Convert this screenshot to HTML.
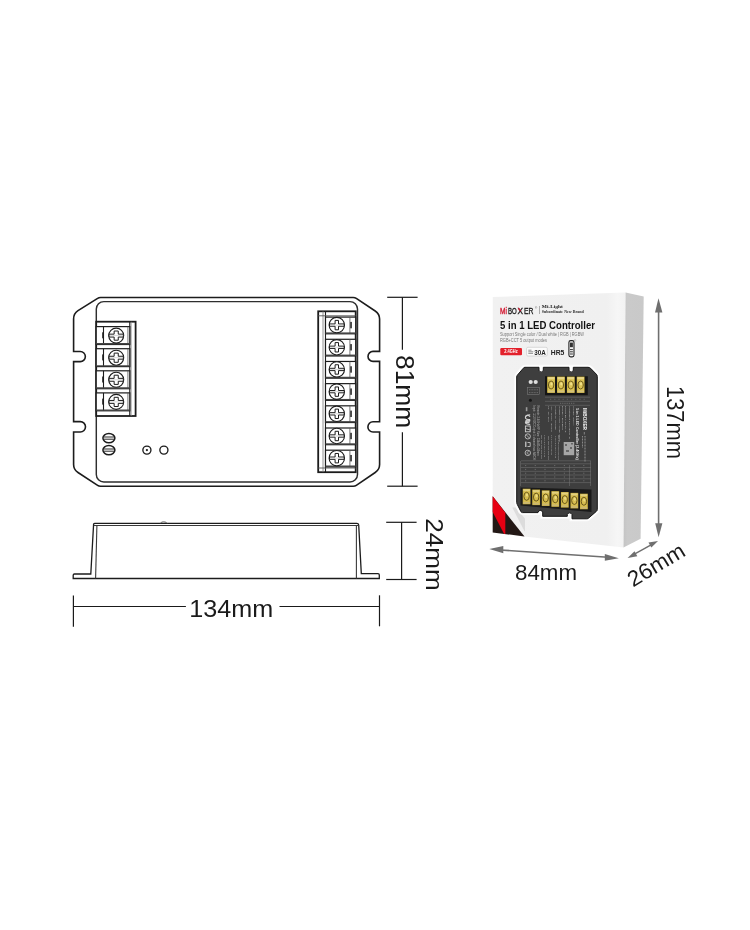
<!DOCTYPE html>
<html><head><meta charset="utf-8"><title>5 in 1 LED Controller dimensions</title>
<style>
html,body{margin:0;padding:0;background:#fff;}
body{width:750px;height:930px;overflow:hidden;font-family:"Liberation Sans",sans-serif;}
svg{display:block;will-change:transform;}
</style></head><body>
<svg width="750" height="930" viewBox="0 0 750 930">
<rect width="750" height="930" fill="#fff"/>
<path d="M 73.6 319 C 73.6 315 75 312.5 78 310.6 L 97.6 298.4 Q 98.8 297.5 100.6 297.5 H 353.2 Q 355 297.5 356.3 298.4 L 375.2 311 C 378.2 313 379.6 315.5 379.6 319 V 351.4 H 373 A 5 5 0 0 0 373 361.4 H 379.6 V 421.8 H 373 A 5.1 5.1 0 0 0 373 432 H 379.6 V 464.5 C 379.6 468 378.2 470.5 375.2 472.5 L 356.3 485.3 Q 355 486.2 353.2 486.2 H 100.6 Q 98.8 486.2 97.6 485.3 L 78 472.5 C 75 470.6 73.6 468 73.6 464.5 V 432 H 80.3 A 5.1 5.1 0 0 0 80.3 421.6 H 73.6 V 361.6 H 80.3 A 5.05 5.05 0 0 0 80.3 351.5 H 73.6 Z" fill="#fff" stroke="#1c1c1c" stroke-width="1.6"/>
<rect x="96.3" y="301.6" width="261.2" height="180.4" rx="7.5" fill="none" stroke="#2e2e2e" stroke-width="1.45"/>
<rect x="96.2" y="321.7" width="39.4" height="94.3" fill="#fff" stroke="#1c1c1c" stroke-width="1.8"/>
<line x1="129.8" y1="321.7" x2="129.8" y2="416" stroke="#1c1c1c" stroke-width="1.2"/>
<line x1="131.2" y1="321.7" x2="131.2" y2="416" stroke="#888" stroke-width="0.7"/>
<rect x="96.2" y="326.6" width="33.6" height="17.9" fill="#fff" stroke="#1c1c1c" stroke-width="1.2"/>
<line x1="103.5" y1="326.6" x2="103.5" y2="344.5" stroke="#1c1c1c" stroke-width="1.1"/>
<line x1="127.9" y1="326.6" x2="127.9" y2="344.5" stroke="#555" stroke-width="0.8"/>
<line x1="96.2" y1="343.8" x2="129.8" y2="343.8" stroke="#444" stroke-width="1.4"/>
<rect x="102.2" y="332.3" width="1.5" height="6" fill="#1c1c1c"/>
<circle cx="116.2" cy="335.6" r="7.5" fill="#fff" stroke="#1c1c1c" stroke-width="1.1"/><path d="M 114.15 331.0 H 118.25 V 334.15000000000003 H 123.3 V 337.05 H 118.25 V 340.20000000000005 H 114.15 V 337.05 H 109.10000000000001 V 334.15000000000003 H 114.15 Z" fill="#fff" stroke="#1c1c1c" stroke-width="1"/><line x1="109.60000000000001" y1="335.6" x2="122.8" y2="335.6" stroke="#bbb" stroke-width="0.6"/>
<rect x="96.2" y="348.70000000000005" width="33.6" height="17.9" fill="#fff" stroke="#1c1c1c" stroke-width="1.2"/>
<line x1="103.5" y1="348.70000000000005" x2="103.5" y2="366.6" stroke="#1c1c1c" stroke-width="1.1"/>
<line x1="127.9" y1="348.70000000000005" x2="127.9" y2="366.6" stroke="#555" stroke-width="0.8"/>
<line x1="96.2" y1="365.90000000000003" x2="129.8" y2="365.90000000000003" stroke="#444" stroke-width="1.4"/>
<rect x="102.2" y="354.40000000000003" width="1.5" height="6" fill="#1c1c1c"/>
<circle cx="116.2" cy="357.70000000000005" r="7.5" fill="#fff" stroke="#1c1c1c" stroke-width="1.1"/><path d="M 114.15 353.1 H 118.25 V 356.25000000000006 H 123.3 V 359.15000000000003 H 118.25 V 362.30000000000007 H 114.15 V 359.15000000000003 H 109.10000000000001 V 356.25000000000006 H 114.15 Z" fill="#fff" stroke="#1c1c1c" stroke-width="1"/><line x1="109.60000000000001" y1="357.70000000000005" x2="122.8" y2="357.70000000000005" stroke="#bbb" stroke-width="0.6"/>
<rect x="96.2" y="370.8" width="33.6" height="17.9" fill="#fff" stroke="#1c1c1c" stroke-width="1.2"/>
<line x1="103.5" y1="370.8" x2="103.5" y2="388.7" stroke="#1c1c1c" stroke-width="1.1"/>
<line x1="127.9" y1="370.8" x2="127.9" y2="388.7" stroke="#555" stroke-width="0.8"/>
<line x1="96.2" y1="388.0" x2="129.8" y2="388.0" stroke="#444" stroke-width="1.4"/>
<rect x="102.2" y="376.5" width="1.5" height="6" fill="#1c1c1c"/>
<circle cx="116.2" cy="379.8" r="7.5" fill="#fff" stroke="#1c1c1c" stroke-width="1.1"/><path d="M 114.15 375.2 H 118.25 V 378.35 H 123.3 V 381.25 H 118.25 V 384.40000000000003 H 114.15 V 381.25 H 109.10000000000001 V 378.35 H 114.15 Z" fill="#fff" stroke="#1c1c1c" stroke-width="1"/><line x1="109.60000000000001" y1="379.8" x2="122.8" y2="379.8" stroke="#bbb" stroke-width="0.6"/>
<rect x="96.2" y="392.90000000000003" width="33.6" height="17.9" fill="#fff" stroke="#1c1c1c" stroke-width="1.2"/>
<line x1="103.5" y1="392.90000000000003" x2="103.5" y2="410.8" stroke="#1c1c1c" stroke-width="1.1"/>
<line x1="127.9" y1="392.90000000000003" x2="127.9" y2="410.8" stroke="#555" stroke-width="0.8"/>
<line x1="96.2" y1="410.1" x2="129.8" y2="410.1" stroke="#444" stroke-width="1.4"/>
<rect x="102.2" y="398.6" width="1.5" height="6" fill="#1c1c1c"/>
<circle cx="116.2" cy="401.90000000000003" r="7.5" fill="#fff" stroke="#1c1c1c" stroke-width="1.1"/><path d="M 114.15 397.3 H 118.25 V 400.45000000000005 H 123.3 V 403.35 H 118.25 V 406.50000000000006 H 114.15 V 403.35 H 109.10000000000001 V 400.45000000000005 H 114.15 Z" fill="#fff" stroke="#1c1c1c" stroke-width="1"/><line x1="109.60000000000001" y1="401.90000000000003" x2="122.8" y2="401.90000000000003" stroke="#bbb" stroke-width="0.6"/>
<rect x="318.2" y="311.3" width="37.5" height="160.9" fill="#fff" stroke="#1c1c1c" stroke-width="1.8"/>
<line x1="323" y1="311.3" x2="323" y2="472.2" stroke="#777" stroke-width="0.8"/>
<line x1="325.5" y1="311.3" x2="325.5" y2="472.2" stroke="#1c1c1c" stroke-width="1.1"/>
<line x1="318.2" y1="315.8" x2="355.7" y2="315.8" stroke="#555" stroke-width="0.9"/>
<line x1="318.2" y1="468" x2="355.7" y2="468" stroke="#555" stroke-width="0.9"/>
<rect x="325.5" y="317.1" width="30.2" height="16.7" fill="#fff" stroke="#1c1c1c" stroke-width="1.2"/>
<line x1="349.9" y1="317.1" x2="349.9" y2="333.8" stroke="#555" stroke-width="0.8"/>
<line x1="325.5" y1="333.1" x2="355.7" y2="333.1" stroke="#444" stroke-width="1.4"/>
<rect x="350.3" y="321.90000000000003" width="1.5" height="6.4" fill="#1c1c1c"/>
<circle cx="336.8" cy="325.1" r="7.7" fill="#fff" stroke="#1c1c1c" stroke-width="1.1"/><path d="M 335.1 320.40000000000003 H 338.5 V 323.95000000000005 H 344.1 V 326.25 H 338.5 V 329.8 H 335.1 V 326.25 H 329.5 V 323.95000000000005 H 335.1 Z" fill="#fff" stroke="#1c1c1c" stroke-width="1"/><line x1="330.0" y1="325.1" x2="343.6" y2="325.1" stroke="#bbb" stroke-width="0.6"/>
<rect x="325.5" y="339.28000000000003" width="30.2" height="16.7" fill="#fff" stroke="#1c1c1c" stroke-width="1.2"/>
<line x1="349.9" y1="339.28000000000003" x2="349.9" y2="355.98" stroke="#555" stroke-width="0.8"/>
<line x1="325.5" y1="355.28000000000003" x2="355.7" y2="355.28000000000003" stroke="#444" stroke-width="1.4"/>
<rect x="350.3" y="344.08000000000004" width="1.5" height="6.4" fill="#1c1c1c"/>
<circle cx="336.8" cy="347.28000000000003" r="7.7" fill="#fff" stroke="#1c1c1c" stroke-width="1.1"/><path d="M 335.1 342.58000000000004 H 338.5 V 346.13000000000005 H 344.1 V 348.43 H 338.5 V 351.98 H 335.1 V 348.43 H 329.5 V 346.13000000000005 H 335.1 Z" fill="#fff" stroke="#1c1c1c" stroke-width="1"/><line x1="330.0" y1="347.28000000000003" x2="343.6" y2="347.28000000000003" stroke="#bbb" stroke-width="0.6"/>
<rect x="325.5" y="361.46000000000004" width="30.2" height="16.7" fill="#fff" stroke="#1c1c1c" stroke-width="1.2"/>
<line x1="349.9" y1="361.46000000000004" x2="349.9" y2="378.16" stroke="#555" stroke-width="0.8"/>
<line x1="325.5" y1="377.46000000000004" x2="355.7" y2="377.46000000000004" stroke="#444" stroke-width="1.4"/>
<rect x="350.3" y="366.26000000000005" width="1.5" height="6.4" fill="#1c1c1c"/>
<circle cx="336.8" cy="369.46000000000004" r="7.7" fill="#fff" stroke="#1c1c1c" stroke-width="1.1"/><path d="M 335.1 364.76000000000005 H 338.5 V 368.31000000000006 H 344.1 V 370.61 H 338.5 V 374.16 H 335.1 V 370.61 H 329.5 V 368.31000000000006 H 335.1 Z" fill="#fff" stroke="#1c1c1c" stroke-width="1"/><line x1="330.0" y1="369.46000000000004" x2="343.6" y2="369.46000000000004" stroke="#bbb" stroke-width="0.6"/>
<rect x="325.5" y="383.64" width="30.2" height="16.7" fill="#fff" stroke="#1c1c1c" stroke-width="1.2"/>
<line x1="349.9" y1="383.64" x2="349.9" y2="400.34" stroke="#555" stroke-width="0.8"/>
<line x1="325.5" y1="399.64" x2="355.7" y2="399.64" stroke="#444" stroke-width="1.4"/>
<rect x="350.3" y="388.44" width="1.5" height="6.4" fill="#1c1c1c"/>
<circle cx="336.8" cy="391.64" r="7.7" fill="#fff" stroke="#1c1c1c" stroke-width="1.1"/><path d="M 335.1 386.94 H 338.5 V 390.49 H 344.1 V 392.78999999999996 H 338.5 V 396.34 H 335.1 V 392.78999999999996 H 329.5 V 390.49 H 335.1 Z" fill="#fff" stroke="#1c1c1c" stroke-width="1"/><line x1="330.0" y1="391.64" x2="343.6" y2="391.64" stroke="#bbb" stroke-width="0.6"/>
<rect x="325.5" y="405.82000000000005" width="30.2" height="16.7" fill="#fff" stroke="#1c1c1c" stroke-width="1.2"/>
<line x1="349.9" y1="405.82000000000005" x2="349.9" y2="422.52000000000004" stroke="#555" stroke-width="0.8"/>
<line x1="325.5" y1="421.82000000000005" x2="355.7" y2="421.82000000000005" stroke="#444" stroke-width="1.4"/>
<rect x="350.3" y="410.62000000000006" width="1.5" height="6.4" fill="#1c1c1c"/>
<circle cx="336.8" cy="413.82000000000005" r="7.7" fill="#fff" stroke="#1c1c1c" stroke-width="1.1"/><path d="M 335.1 409.12000000000006 H 338.5 V 412.6700000000001 H 344.1 V 414.97 H 338.5 V 418.52000000000004 H 335.1 V 414.97 H 329.5 V 412.6700000000001 H 335.1 Z" fill="#fff" stroke="#1c1c1c" stroke-width="1"/><line x1="330.0" y1="413.82000000000005" x2="343.6" y2="413.82000000000005" stroke="#bbb" stroke-width="0.6"/>
<rect x="325.5" y="428.0" width="30.2" height="16.7" fill="#fff" stroke="#1c1c1c" stroke-width="1.2"/>
<line x1="349.9" y1="428.0" x2="349.9" y2="444.7" stroke="#555" stroke-width="0.8"/>
<line x1="325.5" y1="444.0" x2="355.7" y2="444.0" stroke="#444" stroke-width="1.4"/>
<rect x="350.3" y="432.8" width="1.5" height="6.4" fill="#1c1c1c"/>
<circle cx="336.8" cy="436.0" r="7.7" fill="#fff" stroke="#1c1c1c" stroke-width="1.1"/><path d="M 335.1 431.3 H 338.5 V 434.85 H 344.1 V 437.15 H 338.5 V 440.7 H 335.1 V 437.15 H 329.5 V 434.85 H 335.1 Z" fill="#fff" stroke="#1c1c1c" stroke-width="1"/><line x1="330.0" y1="436.0" x2="343.6" y2="436.0" stroke="#bbb" stroke-width="0.6"/>
<rect x="325.5" y="450.18" width="30.2" height="16.7" fill="#fff" stroke="#1c1c1c" stroke-width="1.2"/>
<line x1="349.9" y1="450.18" x2="349.9" y2="466.88" stroke="#555" stroke-width="0.8"/>
<line x1="325.5" y1="466.18" x2="355.7" y2="466.18" stroke="#444" stroke-width="1.4"/>
<rect x="350.3" y="454.98" width="1.5" height="6.4" fill="#1c1c1c"/>
<circle cx="336.8" cy="458.18" r="7.7" fill="#fff" stroke="#1c1c1c" stroke-width="1.1"/><path d="M 335.1 453.48 H 338.5 V 457.03000000000003 H 344.1 V 459.33 H 338.5 V 462.88 H 335.1 V 459.33 H 329.5 V 457.03000000000003 H 335.1 Z" fill="#fff" stroke="#1c1c1c" stroke-width="1"/><line x1="330.0" y1="458.18" x2="343.6" y2="458.18" stroke="#bbb" stroke-width="0.6"/>
<ellipse cx="108.9" cy="438.1" rx="6.0" ry="4.6" fill="#fff" stroke="#1c1c1c" stroke-width="1.5"/>
<path d="M 103.4 437.0 H 114.4 M 103.4 439.20000000000005 H 114.4" stroke="#1c1c1c" stroke-width="0.95"/>
<ellipse cx="108.9" cy="450.1" rx="6.0" ry="4.6" fill="#fff" stroke="#1c1c1c" stroke-width="1.5"/>
<path d="M 103.4 449.0 H 114.4 M 103.4 451.20000000000005 H 114.4" stroke="#1c1c1c" stroke-width="0.95"/>
<circle cx="146.9" cy="450.1" r="4.05" fill="#fff" stroke="#1c1c1c" stroke-width="1.35"/>
<circle cx="146.9" cy="450.1" r="1.15" fill="#1c1c1c"/>
<circle cx="163.9" cy="450.1" r="4.05" fill="#fff" stroke="#1c1c1c" stroke-width="1.35"/>
<path d="M 73.2 578.5 V 575.2 Q 73.2 574 74.4 574 H 90.8 L 93.6 524.2 Q 93.8 523.3 95 523.3 H 356.8 Q 358.5 523.3 358.7 525 L 361.3 573.6 H 378 Q 379.3 573.6 379.3 575 V 578.5 Z" fill="#fff" stroke="#1c1c1c" stroke-width="1.3"/>
<line x1="94" y1="525.5" x2="358.7" y2="525.5" stroke="#3a3a3a" stroke-width="1.1"/>
<path d="M 96.9 525.5 L 95.6 578.5" stroke="#3a3a3a" stroke-width="1.1" fill="none"/>
<path d="M 356.4 525.5 L 356.4 578.5" stroke="#3a3a3a" stroke-width="1.1" fill="none"/>
<path d="M 160.5 523.3 Q 161 521.8 163.5 521.8 Q 166.5 521.8 167 523.3" stroke="#555" stroke-width="0.9" fill="none"/>
<line x1="387.2" y1="297.3" x2="417.6" y2="297.3" stroke="#1a1a1a" stroke-width="1.2"/>
<line x1="387.2" y1="486.2" x2="417.6" y2="486.2" stroke="#1a1a1a" stroke-width="1.2"/>
<line x1="402.4" y1="297.3" x2="402.4" y2="349.8" stroke="#1a1a1a" stroke-width="1.2"/>
<line x1="402.4" y1="432.2" x2="402.4" y2="486.2" stroke="#1a1a1a" stroke-width="1.2"/>
<line x1="386.2" y1="522.3" x2="416.6" y2="522.3" stroke="#1a1a1a" stroke-width="1.2"/>
<line x1="386.2" y1="579.5" x2="416.6" y2="579.5" stroke="#1a1a1a" stroke-width="1.2"/>
<line x1="401.6" y1="522.3" x2="401.6" y2="579.5" stroke="#1a1a1a" stroke-width="1.2"/>
<line x1="73.4" y1="595.5" x2="73.4" y2="626.7" stroke="#1a1a1a" stroke-width="1.2"/>
<line x1="379.5" y1="595.3" x2="379.5" y2="626.3" stroke="#1a1a1a" stroke-width="1.2"/>
<line x1="73.4" y1="606.5" x2="185.9" y2="606.5" stroke="#1a1a1a" stroke-width="1.2"/>
<line x1="279.5" y1="606.5" x2="379.5" y2="606.5" stroke="#1a1a1a" stroke-width="1.2"/>
<text x="189.3" y="617.4" font-size="23.8" font-family="Liberation Sans" fill="#1a1a1a" textLength="84" lengthAdjust="spacingAndGlyphs">134mm</text>
<text transform="translate(395.8 355) rotate(90)" x="0" y="0" font-size="25" font-family="Liberation Sans" fill="#1a1a1a" textLength="73.3" lengthAdjust="spacingAndGlyphs">81mm</text>
<text transform="translate(425.8 518.3) rotate(90)" x="0" y="0" font-size="24.3" font-family="Liberation Sans" fill="#1a1a1a" textLength="72.5" lengthAdjust="spacingAndGlyphs">24mm</text>
<defs><linearGradient id="sideg" x1="0" y1="0" x2="1" y2="0"><stop offset="0" stop-color="#c4c4c4"/><stop offset="0.2" stop-color="#cacaca"/><stop offset="1" stop-color="#c9c9c9"/></linearGradient><linearGradient id="frontg" x1="0" y1="0" x2="1" y2="0"><stop offset="0" stop-color="#f1f1f1"/><stop offset="0.86" stop-color="#f0f0f0"/><stop offset="0.94" stop-color="#f6f6f6"/><stop offset="1" stop-color="#f2f2f2"/></linearGradient></defs>
<polygon points="492.8,297 625.6,292.6 623.5,547.5 524,536.5 492.7,532.4" fill="url(#frontg)"/>
<polygon points="625.6,292.6 643.7,296.5 640.6,538.8 623.5,547.5" fill="url(#sideg)"/>
<polygon points="492.7,496.3 492.7,532.4 524.5,536.5" fill="#231815"/>
<polygon points="492.7,496.3 505.3,512.7 505.3,533.9 504,533.7 492.7,512" fill="#e60012"/>
<polygon points="512.3,507.5 515.5,507.5 525,518.5 525,531.3 524.5,531.3" fill="#dcdcdc"/>
<text x="500.1" y="314.2" font-size="8.5" font-family="Liberation Sans" stroke-width="0.35" lengthAdjust="spacingAndGlyphs" fill="#d3162f" stroke="#d3162f" textLength="6.9">Mi</text>
<text x="508" y="314.2" font-size="8.5" font-family="Liberation Sans" stroke-width="0.35" lengthAdjust="spacingAndGlyphs" fill="#1e1e1e" stroke="#1e1e1e" textLength="8.7">BO</text>
<text x="517.6" y="314.2" font-size="8.5" font-family="Liberation Sans" stroke-width="0.35" lengthAdjust="spacingAndGlyphs" fill="#1e1e1e" stroke="#1e1e1e" textLength="5.5">X</text>
<line x1="518.4" y1="308.2" x2="520.6" y2="311.2" stroke="#d3162f" stroke-width="1.3"/>
<text x="524.1" y="314.2" font-size="8.5" font-family="Liberation Sans" stroke-width="0.35" lengthAdjust="spacingAndGlyphs" fill="#1e1e1e" stroke="#1e1e1e" textLength="9.4">ER</text>
<text x="535" y="308.5" font-size="3" font-family="Liberation Sans" fill="#555">®</text>
<line x1="539.5" y1="306" x2="539.5" y2="314" stroke="#666" stroke-width="0.5"/>
<text x="541.8" y="308.3" font-size="4" font-weight="bold" font-family="Liberation Serif" fill="#1c1c1c" textLength="21" lengthAdjust="spacingAndGlyphs">Mi-Light</text>
<text x="541.8" y="312.9" font-size="3.7" font-weight="bold" font-family="Liberation Serif" fill="#2a2a2a" textLength="42" lengthAdjust="spacingAndGlyphs">Subordinate New Brand</text>
<text x="500" y="328.7" font-size="11" font-weight="bold" font-family="Liberation Sans" fill="#111" textLength="95" lengthAdjust="spacingAndGlyphs">5 in 1 LED Controller</text>
<text x="500" y="335.5" font-size="4.6" font-family="Liberation Sans" fill="#777" textLength="84" lengthAdjust="spacingAndGlyphs">Support Single color / Dual white | RGB | RGBW</text>
<text x="500" y="341.8" font-size="4.6" font-family="Liberation Sans" fill="#777" textLength="47" lengthAdjust="spacingAndGlyphs">RGB+CCT 5 output modes</text>
<rect x="500.3" y="348.1" width="21.7" height="7.2" rx="1.1" fill="#e3202b"/>
<text x="504.2" y="353.4" font-size="4.5" font-weight="bold" font-family="Liberation Sans" fill="#fff" textLength="13.5" lengthAdjust="spacingAndGlyphs">2.4GHz</text>
<rect x="526.6" y="347.3" width="20.7" height="8.7" rx="1.3" fill="#fbfbfb" stroke="#c4c4c4" stroke-width="0.6"/>
<path d="M 528.3 350.2 H 531.5 M 528.3 351.8 H 533.3 M 528.3 353.4 H 533" stroke="#666" stroke-width="0.7"/>
<text x="534.3" y="354.6" font-size="7.2" font-weight="bold" font-family="Liberation Sans" fill="#222" textLength="11.6" lengthAdjust="spacingAndGlyphs">30A</text>
<text x="550.8" y="354.6" font-size="7.6" font-weight="bold" font-family="Liberation Sans" fill="#222" textLength="13.6" lengthAdjust="spacingAndGlyphs">HR5</text>
<rect x="568.9" y="340.6" width="5.1" height="16.3" rx="1.8" fill="#f4f4f4" stroke="#222" stroke-width="1.1"/>
<rect x="570" y="342.6" width="2.9" height="4.6" fill="#333"/>
<path d="M 570 349.6 H 572.9 M 570 351.8 H 572.9 M 570 354 H 572.9" stroke="#333" stroke-width="1"/>
<text x="574.3" y="342" font-size="2.6" font-family="Liberation Sans" fill="#666">®</text>
<path d="M 525 367.3 H 539 V 370.7 Q 541.1 373.7 543.3 370.7 V 367.3 H 569 V 370.7 Q 571.1 373.7 573.3 370.7 V 367.3 H 588 Q 589.5 367.3 590.6 368.3 L 596.3 374.2 Q 597.3 375.2 597.3 376.6 V 509.5 Q 597.3 510.6 596.3 511.4 L 588.5 518.2 Q 587.8 518.8 586.8 518.8 H 572 V 514.5 Q 569.6 511.2 567.3 514.5 V 516.3 H 542.7 V 512 Q 540.4 508.8 538 512 V 512.6 H 522.5 Q 521.6 512.6 521 511.8 L 517.3 504.5 Q 516.7 503.5 516.7 502.5 V 377 Q 516.7 375.8 517.5 375 L 523.3 368.2 Q 524 367.3 525 367.3 Z" fill="#3d3d3d" stroke="#fbfbfb" stroke-width="5"/>
<path d="M 525 367.3 H 539 V 370.7 Q 541.1 373.7 543.3 370.7 V 367.3 H 569 V 370.7 Q 571.1 373.7 573.3 370.7 V 367.3 H 588 Q 589.5 367.3 590.6 368.3 L 596.3 374.2 Q 597.3 375.2 597.3 376.6 V 509.5 Q 597.3 510.6 596.3 511.4 L 588.5 518.2 Q 587.8 518.8 586.8 518.8 H 572 V 514.5 Q 569.6 511.2 567.3 514.5 V 516.3 H 542.7 V 512 Q 540.4 508.8 538 512 V 512.6 H 522.5 Q 521.6 512.6 521 511.8 L 517.3 504.5 Q 516.7 503.5 516.7 502.5 V 377 Q 516.7 375.8 517.5 375 L 523.3 368.2 Q 524 367.3 525 367.3 Z" fill="#3d3d3d" stroke="#ffffff" stroke-width="3.2"/>
<path d="M 525 367.3 H 539 V 370.7 Q 541.1 373.7 543.3 370.7 V 367.3 H 569 V 370.7 Q 571.1 373.7 573.3 370.7 V 367.3 H 588 Q 589.5 367.3 590.6 368.3 L 596.3 374.2 Q 597.3 375.2 597.3 376.6 V 509.5 Q 597.3 510.6 596.3 511.4 L 588.5 518.2 Q 587.8 518.8 586.8 518.8 H 572 V 514.5 Q 569.6 511.2 567.3 514.5 V 516.3 H 542.7 V 512 Q 540.4 508.8 538 512 V 512.6 H 522.5 Q 521.6 512.6 521 511.8 L 517.3 504.5 Q 516.7 503.5 516.7 502.5 V 377 Q 516.7 375.8 517.5 375 L 523.3 368.2 Q 524 367.3 525 367.3 Z" fill="#3e3e3e" stroke="#161616" stroke-width="1"/>
<polygon points="545,376.3 587.8,376.3 587.8,395.3 545,395.3" fill="#151515"/>
<rect x="547.2" y="376.6" width="7.8" height="16.3" fill="#c9b03e"/>
<rect x="547.8000000000001" y="377.2" width="6.6" height="15" fill="#dbc355"/>
<rect x="547.8000000000001" y="377.2" width="6.6" height="2" fill="#e6d58a"/>
<rect x="547.8000000000001" y="390.6" width="6.6" height="1.8" fill="#d4c27e"/>
<ellipse cx="551.1" cy="385" rx="2.7" ry="4" fill="none" stroke="#6f5d1c" stroke-width="1"/>
<ellipse cx="551.5" cy="383.8" rx="1.1" ry="1.6" fill="#f0e08a"/>
<rect x="557.0500000000001" y="376.6" width="7.8" height="16.3" fill="#c9b03e"/>
<rect x="557.6500000000001" y="377.2" width="6.6" height="15" fill="#dbc355"/>
<rect x="557.6500000000001" y="377.2" width="6.6" height="2" fill="#e6d58a"/>
<rect x="557.6500000000001" y="390.6" width="6.6" height="1.8" fill="#d4c27e"/>
<ellipse cx="560.95" cy="385" rx="2.7" ry="4" fill="none" stroke="#6f5d1c" stroke-width="1"/>
<ellipse cx="561.35" cy="383.8" rx="1.1" ry="1.6" fill="#f0e08a"/>
<rect x="566.9000000000001" y="376.6" width="7.8" height="16.3" fill="#c9b03e"/>
<rect x="567.5000000000001" y="377.2" width="6.6" height="15" fill="#dbc355"/>
<rect x="567.5000000000001" y="377.2" width="6.6" height="2" fill="#e6d58a"/>
<rect x="567.5000000000001" y="390.6" width="6.6" height="1.8" fill="#d4c27e"/>
<ellipse cx="570.8000000000001" cy="385" rx="2.7" ry="4" fill="none" stroke="#6f5d1c" stroke-width="1"/>
<ellipse cx="571.2" cy="383.8" rx="1.1" ry="1.6" fill="#f0e08a"/>
<rect x="576.75" y="376.6" width="7.8" height="16.3" fill="#c9b03e"/>
<rect x="577.35" y="377.2" width="6.6" height="15" fill="#dbc355"/>
<rect x="577.35" y="377.2" width="6.6" height="2" fill="#e6d58a"/>
<rect x="577.35" y="390.6" width="6.6" height="1.8" fill="#d4c27e"/>
<ellipse cx="580.65" cy="385" rx="2.7" ry="4" fill="none" stroke="#6f5d1c" stroke-width="1"/>
<ellipse cx="581.05" cy="383.8" rx="1.1" ry="1.6" fill="#f0e08a"/>
<circle cx="530.7" cy="382" r="2.1" fill="#dedede"/>
<circle cx="535.7" cy="382" r="2.1" fill="#dedede"/>
<rect x="527.7" y="387.7" width="11.6" height="7" fill="none" stroke="#8a8a8a" stroke-width="0.45"/>
<line x1="529" y1="389.8" x2="538" y2="389.8" stroke="#8a8a8a" stroke-width="0.6" stroke-dasharray="1 0.6"/>
<line x1="529" y1="392.6" x2="538" y2="392.6" stroke="#8a8a8a" stroke-width="0.6" stroke-dasharray="1 0.6"/>
<circle cx="530.4" cy="400.3" r="1.5" fill="#151515"/>
<path d="M 545 397.2 H 590 M 545 401.3 H 590 M 545 405.3 H 590" stroke="#6e6e6e" stroke-width="0.6" fill="none"/>
<line x1="550" y1="399.3" x2="586" y2="399.3" stroke="#6a6a6a" stroke-width="0.8" stroke-dasharray="1.2 3"/>
<line x1="560" y1="403.3" x2="575" y2="403.3" stroke="#777" stroke-width="0.8" stroke-dasharray="1.2 1"/>
<rect x="525.8" y="407.2" width="1.6" height="4" fill="#999"/>
<path d="M 530 416.8 A 2.4 2.4 0 0 0 525.6 416.8 M 530 421.2 A 2.4 2.4 0 0 0 525.6 421.2 M 525.6 421.2 H 530" stroke="#d0d0d0" stroke-width="1.1" fill="none"/>
<path d="M 530.2 414.8 Q 525.4 414.8 525.4 417.4 Q 525.4 419.5 530.2 419.5 M 530.2 420.6 Q 525.4 420.6 525.4 422.6 Q 525.4 424.5 530.2 424.5 M 525.4 422.6 H 529.5" stroke="#d0d0d0" stroke-width="1.1" fill="none"/>
<rect x="525.4" y="426" width="4.8" height="5.8" fill="none" stroke="#d0d0d0" stroke-width="0.9"/>
<line x1="525.4" y1="428.5" x2="530.2" y2="430" stroke="#d0d0d0" stroke-width="0.8"/>
<circle cx="527.8" cy="436.4" r="2.6" fill="none" stroke="#d0d0d0" stroke-width="0.8"/>
<line x1="526" y1="434.6" x2="529.6" y2="438.2" stroke="#d0d0d0" stroke-width="0.7"/>
<rect x="525.2" y="441.6" width="1.2" height="5.4" fill="#d0d0d0"/>
<path d="M 527.5 442.5 H 530.2 V 446.5 H 527.5" stroke="#d0d0d0" stroke-width="0.8" fill="none"/>
<circle cx="527.8" cy="452.9" r="2.7" fill="none" stroke="#d0d0d0" stroke-width="0.8"/>
<path d="M 529 451.8 A 1.3 1.3 0 1 0 529 454" stroke="#d0d0d0" stroke-width="0.6" fill="none"/>
<text transform="translate(533.2 405.5) rotate(90)" font-size="2.6" font-family="Liberation Sans" fill="#b0b0b0" lengthAdjust="spacingAndGlyphs" textLength="54">Input: 12-24VDC  Output: 5 channel max 6A/CH</text>
<text transform="translate(536.6 405.5) rotate(90)" font-size="2.6" font-family="Liberation Sans" fill="#b0b0b0" lengthAdjust="spacingAndGlyphs" textLength="50">Remote: 2.4GHz RF  Size: 134x81x24mm</text>
<text transform="translate(547.6 406) rotate(90)" font-size="2.5" font-family="Liberation Sans" fill="#b0b0b0" lengthAdjust="spacingAndGlyphs" textLength="16">Ta: -20~60C</text>
<text transform="translate(551 406) rotate(90)" font-size="2.5" font-family="Liberation Sans" fill="#b0b0b0" lengthAdjust="spacingAndGlyphs" textLength="26">Tc: 80C  IP20</text>
<text transform="translate(554.8 406) rotate(90)" font-size="2.5" font-family="Liberation Sans" fill="#b0b0b0" lengthAdjust="spacingAndGlyphs" textLength="24">Control mode</text>
<text transform="translate(558.9 406) rotate(90)" font-size="2.5" font-family="Liberation Sans" fill="#b0b0b0" lengthAdjust="spacingAndGlyphs" textLength="36">Single color / Dual white</text>
<text transform="translate(562.3 406) rotate(90)" font-size="2.5" font-family="Liberation Sans" fill="#b0b0b0" lengthAdjust="spacingAndGlyphs" textLength="24">RGB / RGBW</text>
<text transform="translate(565.4 406) rotate(90)" font-size="2.5" font-family="Liberation Sans" fill="#b0b0b0" lengthAdjust="spacingAndGlyphs" textLength="27">RGB+CCT</text>
<text transform="translate(569.1 406) rotate(90)" font-size="2.5" font-family="Liberation Sans" fill="#b0b0b0" lengthAdjust="spacingAndGlyphs" textLength="33">Output modes 5</text>
<text transform="translate(572.9 406) rotate(90)" font-size="2.5" font-family="Liberation Sans" fill="#b0b0b0" lengthAdjust="spacingAndGlyphs" textLength="20">Max 30A</text>
<text transform="translate(540.5 435) rotate(90)" font-size="2.3" font-family="Liberation Sans" fill="#b0b0b0" lengthAdjust="spacingAndGlyphs" textLength="24">CH1 CH2 CH3 CH4 CH5</text>
<text transform="translate(544 435) rotate(90)" font-size="2.3" font-family="Liberation Sans" fill="#b0b0b0" lengthAdjust="spacingAndGlyphs" textLength="22">CH1 CH2 CH3 CH4 CH5</text>
<text transform="translate(547.5 436) rotate(90)" font-size="2.3" font-family="Liberation Sans" fill="#b0b0b0" lengthAdjust="spacingAndGlyphs" textLength="24">CH1 CH2 CH3 CH4 CH5</text>
<text transform="translate(551 435) rotate(90)" font-size="2.3" font-family="Liberation Sans" fill="#b0b0b0" lengthAdjust="spacingAndGlyphs" textLength="20">CH1 CH2 CH3 CH4 CH5</text>
<text transform="translate(554.5 436) rotate(90)" font-size="2.3" font-family="Liberation Sans" fill="#b0b0b0" lengthAdjust="spacingAndGlyphs" textLength="22">CH1 CH2 CH3 CH4 CH5</text>
<text transform="translate(558 435) rotate(90)" font-size="2.3" font-family="Liberation Sans" fill="#b0b0b0" lengthAdjust="spacingAndGlyphs" textLength="25">CH1 CH2 CH3 CH4 CH5</text>
<text transform="translate(576.3 408.2) rotate(90)" font-size="3.4" font-weight="bold" font-family="Liberation Sans" fill="#e8e8e8" textLength="51.5" lengthAdjust="spacingAndGlyphs">5 in 1 LED Controller (2.4GHz)</text>
<text transform="translate(582.8 408) rotate(90)" font-size="4.6" font-weight="bold" font-family="Liberation Sans" fill="#f0f0f0" textLength="22" lengthAdjust="spacingAndGlyphs">MiBOXER</text>
<line x1="584.3" y1="432" x2="584.3" y2="434.5" stroke="#ccc" stroke-width="0.5"/>
<line x1="585" y1="436" x2="585" y2="462" stroke="#a8a8a8" stroke-width="0.8" stroke-dasharray="1 0.5"/>
<line x1="582.5" y1="436" x2="582.5" y2="448" stroke="#a8a8a8" stroke-width="0.7" stroke-dasharray="1 0.5"/>
<rect x="563.7" y="442" width="10.5" height="13.2" fill="#a5a5a5"/>
<path d="M 565 444 h2 v2 h-2z M 570 447 h2 v2 h-2z M 566 450 h3 v2 h-3z M 571 443 h2 v1.5 h-2z" fill="#666"/>
<path d="M 521 460.8 H 591 M 521 463.8 H 591 M 521 467.5 H 591 M 521 471.3 H 591 M 521 475 H 591 M 521 478.8 H 591 M 521 482.6 H 591 M 569.5 465 V 486 M 520.5 461 V 486 M 590.5 461 V 486" stroke="#777" stroke-width="0.5" fill="none"/>
<line x1="525" y1="465.6" x2="590" y2="465.6" stroke="#808080" stroke-width="0.7" stroke-dasharray="1.2 8.5"/>
<line x1="525" y1="469.4" x2="590" y2="469.4" stroke="#808080" stroke-width="0.7" stroke-dasharray="1.2 8.5"/>
<line x1="525" y1="473.2" x2="590" y2="473.2" stroke="#808080" stroke-width="0.7" stroke-dasharray="1.2 8.5"/>
<line x1="525" y1="477" x2="590" y2="477" stroke="#808080" stroke-width="0.7" stroke-dasharray="1.2 8.5"/>
<line x1="525" y1="480.8" x2="590" y2="480.8" stroke="#808080" stroke-width="0.7" stroke-dasharray="1.2 8.5"/>
<polygon points="520.5,487.5 591.5,489.5 591.5,512 520.5,505.5" fill="#1a1a1a"/>
<rect x="522.7" y="488.7" width="7.8" height="15.6" fill="#c4aa3a"/>
<rect x="523.3000000000001" y="489.3" width="6.6" height="14.4" fill="#d6bd50"/>
<rect x="523.3000000000001" y="489.3" width="6.6" height="1.8" fill="#e2d080"/>
<rect x="523.3000000000001" y="502.0" width="6.6" height="1.7" fill="#cbb873"/>
<ellipse cx="526.6" cy="496.3" rx="2.7" ry="4" fill="none" stroke="#6a581a" stroke-width="1"/>
<ellipse cx="527.0" cy="495.0" rx="1.1" ry="1.6" fill="#ecdb80"/>
<rect x="532.25" y="489.53" width="7.8" height="15.6" fill="#c4aa3a"/>
<rect x="532.85" y="490.13" width="6.6" height="14.4" fill="#d6bd50"/>
<rect x="532.85" y="490.13" width="6.6" height="1.8" fill="#e2d080"/>
<rect x="532.85" y="502.83" width="6.6" height="1.7" fill="#cbb873"/>
<ellipse cx="536.15" cy="497.13" rx="2.7" ry="4" fill="none" stroke="#6a581a" stroke-width="1"/>
<ellipse cx="536.55" cy="495.83" rx="1.1" ry="1.6" fill="#ecdb80"/>
<rect x="541.8000000000001" y="490.36" width="7.8" height="15.6" fill="#c4aa3a"/>
<rect x="542.4000000000001" y="490.96000000000004" width="6.6" height="14.4" fill="#d6bd50"/>
<rect x="542.4000000000001" y="490.96000000000004" width="6.6" height="1.8" fill="#e2d080"/>
<rect x="542.4000000000001" y="503.66" width="6.6" height="1.7" fill="#cbb873"/>
<ellipse cx="545.7" cy="497.96000000000004" rx="2.7" ry="4" fill="none" stroke="#6a581a" stroke-width="1"/>
<ellipse cx="546.1" cy="496.66" rx="1.1" ry="1.6" fill="#ecdb80"/>
<rect x="551.35" y="491.19" width="7.8" height="15.6" fill="#c4aa3a"/>
<rect x="551.95" y="491.79" width="6.6" height="14.4" fill="#d6bd50"/>
<rect x="551.95" y="491.79" width="6.6" height="1.8" fill="#e2d080"/>
<rect x="551.95" y="504.49" width="6.6" height="1.7" fill="#cbb873"/>
<ellipse cx="555.25" cy="498.79" rx="2.7" ry="4" fill="none" stroke="#6a581a" stroke-width="1"/>
<ellipse cx="555.65" cy="497.49" rx="1.1" ry="1.6" fill="#ecdb80"/>
<rect x="560.9000000000001" y="492.02" width="7.8" height="15.6" fill="#c4aa3a"/>
<rect x="561.5000000000001" y="492.62" width="6.6" height="14.4" fill="#d6bd50"/>
<rect x="561.5000000000001" y="492.62" width="6.6" height="1.8" fill="#e2d080"/>
<rect x="561.5000000000001" y="505.32" width="6.6" height="1.7" fill="#cbb873"/>
<ellipse cx="564.8000000000001" cy="499.62" rx="2.7" ry="4" fill="none" stroke="#6a581a" stroke-width="1"/>
<ellipse cx="565.2" cy="498.32" rx="1.1" ry="1.6" fill="#ecdb80"/>
<rect x="570.45" y="492.84999999999997" width="7.8" height="15.6" fill="#c4aa3a"/>
<rect x="571.0500000000001" y="493.45" width="6.6" height="14.4" fill="#d6bd50"/>
<rect x="571.0500000000001" y="493.45" width="6.6" height="1.8" fill="#e2d080"/>
<rect x="571.0500000000001" y="506.15" width="6.6" height="1.7" fill="#cbb873"/>
<ellipse cx="574.35" cy="500.45" rx="2.7" ry="4" fill="none" stroke="#6a581a" stroke-width="1"/>
<ellipse cx="574.75" cy="499.15" rx="1.1" ry="1.6" fill="#ecdb80"/>
<rect x="580.0" y="493.68" width="7.8" height="15.6" fill="#c4aa3a"/>
<rect x="580.6" y="494.28000000000003" width="6.6" height="14.4" fill="#d6bd50"/>
<rect x="580.6" y="494.28000000000003" width="6.6" height="1.8" fill="#e2d080"/>
<rect x="580.6" y="506.98" width="6.6" height="1.7" fill="#cbb873"/>
<ellipse cx="583.9" cy="501.28000000000003" rx="2.7" ry="4" fill="none" stroke="#6a581a" stroke-width="1"/>
<ellipse cx="584.3" cy="499.98" rx="1.1" ry="1.6" fill="#ecdb80"/>
<line x1="658.6" y1="310" x2="658.6" y2="525" stroke="#6f6f6f" stroke-width="1.6"/>
<polygon points="658.5,298.3 655,312.5 662.4,312.5" fill="#6f6f6f"/>
<polygon points="658.6,537.2 655.2,523.3 662.4,523.3" fill="#6f6f6f"/>
<line x1="500" y1="550" x2="608" y2="557.2" stroke="#6f6f6f" stroke-width="1.6"/>
<polygon points="489.3,549 503.3,546 503.3,553.3" fill="#6f6f6f"/>
<polygon points="618.8,558.2 604.8,554 604.8,560.7" fill="#6f6f6f"/>
<line x1="633" y1="554.8" x2="652" y2="544.3" stroke="#6f6f6f" stroke-width="1.4"/>
<polygon points="627.6,557.9 634.5,551.3 637.3,556.3" fill="#6f6f6f"/>
<polygon points="658,541 648.5,542.6 651.3,547.6" fill="#6f6f6f"/>
<text x="515" y="579.6" font-size="21.5" font-family="Liberation Sans" fill="#1a1a1a" textLength="62" lengthAdjust="spacingAndGlyphs">84mm</text>
<text transform="translate(667.2 386) rotate(90)" font-size="23.5" font-family="Liberation Sans" fill="#1a1a1a" textLength="73" lengthAdjust="spacingAndGlyphs">137mm</text>
<text transform="translate(633 587.5) rotate(-31)" font-size="22" font-family="Liberation Sans" fill="#1a1a1a" textLength="63" lengthAdjust="spacingAndGlyphs">26mm</text>
</svg>
</body></html>
